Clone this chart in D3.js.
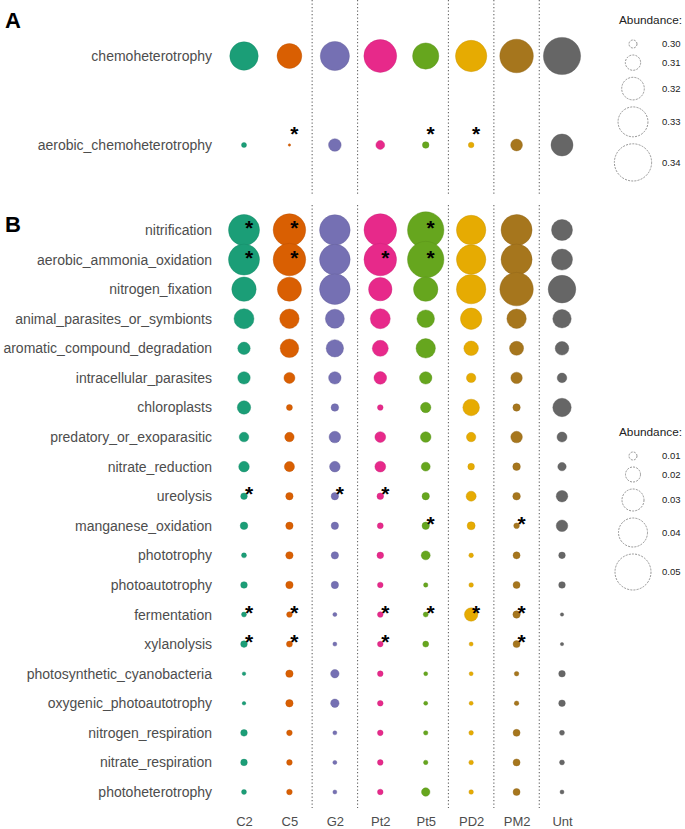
<!DOCTYPE html>
<html>
<head>
<meta charset="utf-8">
<script src="https://cdn.jsdelivr.net/npm/d3@7"></script>
<style>
  html, body { margin: 0; padding: 0; background: #fff; }
  svg { display: block; font-family: "Liberation Sans", Arial, sans-serif; }
</style>
</head>
<body>
<svg id="chart" width="685" height="829"></svg>
<script>
// ---------------- DATA ----------------
const samples = ["C2", "C5", "G2", "Pt2", "Pt5", "PD2", "PM2", "Unt"];
const colors = ["#1B9E77", "#D95F02", "#7570B3", "#E7298A", "#66A61E", "#E6AB02", "#A6761D", "#666666"];
const separatorsAfter = ["C5", "G2", "Pt5", "PD2", "PM2"];

const functionsA = ["chemoheterotrophy", "aerobic_chemoheterotrophy"];
const valuesA = [
  [0.328, 0.323, 0.329, 0.334, 0.325, 0.332, 0.335, 0.340],
  [0.2959, 0.2923, 0.3063, 0.3011, 0.2981, 0.2967, 0.3052, 0.3192]
];
const starsA = [
  ["aerobic_chemoheterotrophy", "C5"], ["aerobic_chemoheterotrophy", "Pt5"], ["aerobic_chemoheterotrophy", "PD2"]
];
const legendA = [0.30, 0.31, 0.32, 0.33, 0.34];

const functionsB = ["nitrification", "aerobic_ammonia_oxidation", "nitrogen_fixation",
  "animal_parasites_or_symbionts", "aromatic_compound_degradation", "intracellular_parasites",
  "chloroplasts", "predatory_or_exoparasitic", "nitrate_reduction", "ureolysis",
  "manganese_oxidation", "phototrophy", "photoautotrophy", "fermentation", "xylanolysis",
  "photosynthetic_cyanobacteria", "oxygenic_photoautotrophy", "nitrogen_respiration",
  "nitrate_respiration", "photoheterotrophy"];
const valuesB = [
  [0.0429, 0.0451, 0.0423, 0.0451, 0.0506, 0.0406, 0.0429, 0.0286],
  [0.0429, 0.0451, 0.0423, 0.0451, 0.0506, 0.0406, 0.0429, 0.0286],
  [0.0334, 0.0329, 0.0423, 0.0320, 0.0334, 0.0406, 0.0463, 0.0380],
  [0.0271, 0.0263, 0.0257, 0.0271, 0.0237, 0.0291, 0.0263, 0.0249],
  [0.0163, 0.0251, 0.0234, 0.0214, 0.0263, 0.0194, 0.0186, 0.0180],
  [0.0163, 0.0143, 0.0163, 0.0166, 0.0163, 0.0120, 0.0149, 0.0123],
  [0.0177, 0.0071, 0.0094, 0.0066, 0.0134, 0.0223, 0.0091, 0.0249],
  [0.0123, 0.0120, 0.0151, 0.0140, 0.0137, 0.0120, 0.0151, 0.0129],
  [0.0137, 0.0130, 0.0137, 0.0140, 0.0114, 0.0080, 0.0094, 0.0106],
  [0.0080, 0.0091, 0.0091, 0.0080, 0.0091, 0.0129, 0.0094, 0.0151],
  [0.0094, 0.0091, 0.0091, 0.0071, 0.0091, 0.0100, 0.0066, 0.0151],
  [0.0057, 0.0091, 0.0091, 0.0080, 0.0114, 0.0051, 0.0086, 0.0080],
  [0.0080, 0.0091, 0.0091, 0.0066, 0.0049, 0.0051, 0.0086, 0.0080],
  [0.0057, 0.0066, 0.0043, 0.0066, 0.0057, 0.0177, 0.0091, 0.0034],
  [0.0080, 0.0071, 0.0043, 0.0066, 0.0071, 0.0043, 0.0086, 0.0034],
  [0.0037, 0.0091, 0.0106, 0.0066, 0.0043, 0.0043, 0.0051, 0.0080],
  [0.0037, 0.0091, 0.0106, 0.0066, 0.0043, 0.0043, 0.0051, 0.0080],
  [0.0080, 0.0066, 0.0043, 0.0066, 0.0049, 0.0051, 0.0086, 0.0057],
  [0.0080, 0.0066, 0.0043, 0.0066, 0.0049, 0.0051, 0.0086, 0.0057],
  [0.0057, 0.0066, 0.0043, 0.0066, 0.0106, 0.0051, 0.0086, 0.0043]
];
const starsB = [
  ["nitrification", "C2"], ["nitrification", "C5"], ["nitrification", "Pt5"],
  ["aerobic_ammonia_oxidation", "C2"], ["aerobic_ammonia_oxidation", "C5"],
  ["aerobic_ammonia_oxidation", "Pt2"], ["aerobic_ammonia_oxidation", "Pt5"],
  ["ureolysis", "C2"], ["ureolysis", "G2"], ["ureolysis", "Pt2"],
  ["manganese_oxidation", "Pt5"], ["manganese_oxidation", "PM2"],
  ["fermentation", "C2"], ["fermentation", "C5"], ["fermentation", "Pt2"],
  ["fermentation", "Pt5"], ["fermentation", "PD2"], ["fermentation", "PM2"],
  ["xylanolysis", "C2"], ["xylanolysis", "C5"], ["xylanolysis", "Pt2"], ["xylanolysis", "PM2"]
];
const legendB = [0.01, 0.02, 0.03, 0.04, 0.05];

// ---------------- DRAW ----------------
const svg = d3.select("#chart");
const textCol = "#4d4d4d";

const x = d3.scalePoint().domain(samples).range([244, 562]);
const color = d3.scaleOrdinal().domain(samples).range(colors);

const yA = d3.scalePoint().domain(functionsA).range([56, 145]);
const yB = d3.scalePoint().domain(functionsB).range([230, 792]);

const rA = d3.scaleLinear().domain([0.30, 0.34]).range([4, 18.6]);
const rB = d3.scaleLinear().domain([0.01, 0.05]).range([4, 18]);

function sepLines(y0, y1) {
  svg.append("g").selectAll("line").data(separatorsAfter).join("line")
    .attr("x1", d => (x(d) + x(samples[samples.indexOf(d) + 1])) / 2)
    .attr("x2", d => (x(d) + x(samples[samples.indexOf(d) + 1])) / 2)
    .attr("y1", y0).attr("y2", y1)
    .attr("stroke", "#666").attr("stroke-width", 1.1)
    .attr("stroke-dasharray", "1.3,2.2");
}
sepLines(0, 196);
sepLines(205, 808);

function panel(funcs, vals, y, r, stars, starDy, fontSize) {
  const cells = [];
  funcs.forEach((f, i) => samples.forEach((s, j) => cells.push({f, s, v: vals[i][j]})));
  svg.append("g").selectAll("circle").data(cells).join("circle")
    .attr("cx", d => x(d.s)).attr("cy", d => y(d.f))
    .attr("r", d => Math.max(0.8, r(d.v)))
    .attr("fill", d => color(d.s))
    .attr("stroke", d => d3.color(color(d.s)).darker(0.4))
    .attr("stroke-width", 0.4);
  const ax = svg.append("g").attr("transform", "translate(218,0)")
    .call(d3.axisLeft(y).tickSize(0).tickPadding(6));
  ax.select(".domain").remove();
  ax.selectAll("text").attr("fill", textCol).style("font-size", fontSize + "px")
    .style("font-family", "'Liberation Sans', Arial, sans-serif");
  svg.append("g").selectAll("text").data(stars).join("text")
    .attr("x", d => x(d[1]) + 5).attr("y", d => y(d[0]) + starDy)
    .attr("text-anchor", "middle")
    .style("font-size", "21px").style("font-weight", "bold")
    .attr("fill", "#000").text("*");
}

panel(functionsA, valuesA, yA, rA, starsA, -16 + 12, 14);
panel(functionsB, valuesB, yB, rB, starsB, -7 + 12, 14);

// x axis
const xa = svg.append("g").attr("transform", "translate(0,813)")
  .call(d3.axisBottom(x).tickSize(0).tickPadding(4));
xa.select(".domain").remove();
xa.selectAll("text").attr("fill", textCol).style("font-size", "13px")
  .style("font-family", "'Liberation Sans', Arial, sans-serif");

// Panel letters
svg.append("text").attr("x", 5).attr("y", 28).text("A")
  .style("font-size", "22px").style("font-weight", "bold").attr("fill", "#000");
svg.append("text").attr("x", 5).attr("y", 232).text("B")
  .style("font-size", "22px").style("font-weight", "bold").attr("fill", "#000");

// Legends
function legend(values, r, titleY, fmt) {
  const g = svg.append("g");
  g.append("text").attr("x", 619).attr("y", titleY).attr("dy", "0.35em")
    .text("Abundance:").style("font-size", "11.8px").attr("fill", "#222");
  let yCur = titleY + 16.5;
  const items = values.map(v => {
    const d = 2 * r(v);
    const h = Math.max(14, d + 7);
    const cy = yCur + h / 2;
    yCur += h;
    return {v, cy};
  });
  g.selectAll("circle").data(items).join("circle")
    .attr("cx", 633).attr("cy", d => d.cy).attr("r", d => r(d.v))
    .attr("fill", "none").attr("stroke", "#888").attr("stroke-width", 0.9)
    .attr("stroke-dasharray", "2,1.2");
  g.selectAll("text.lab").data(items).join("text").attr("class", "lab")
    .attr("x", 662).attr("y", d => d.cy).attr("dy", "0.35em")
    .text(d => fmt(d.v)).style("font-size", "9.5px").attr("fill", "#222");
}
legend(legendA, rA, 20, d3.format(".2f"));
legend(legendB, rB, 432, d3.format(".2f"));
</script>
</body>
</html>
